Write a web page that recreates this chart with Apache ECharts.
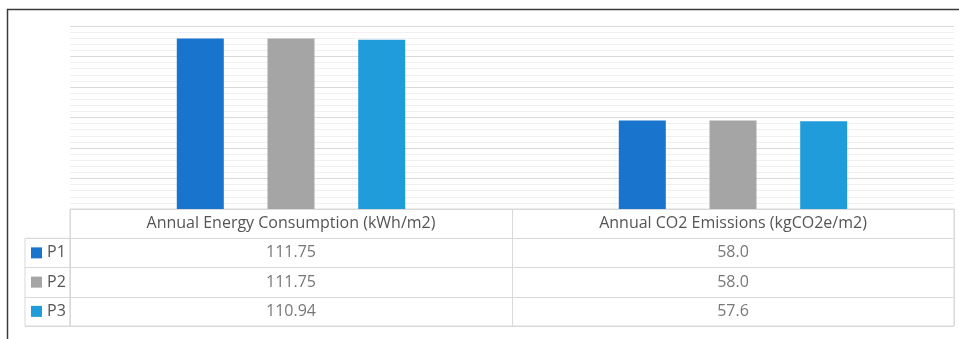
<!DOCTYPE html>
<html>
<head>
<meta charset="utf-8">
<script src="https://cdn.jsdelivr.net/npm/echarts@6/dist/echarts.min.js"></script>
<style>html,body{margin:0;padding:0;background:#fff;}#c{width:959px;height:339px;}</style>
</head>
<body>
<div id="c"></div>
<script>
const categories = ['Annual Energy Consumption (kWh/m2)', 'Annual CO2 Emissions (kgCO2e/m2)'];
const seriesNames = ['P1', 'P2', 'P3'];
const p1 = [111.75, 58.0];
const p2 = [111.75, 58.0];
const p3 = [110.94, 57.6];
const decimals = [2, 1];
const colors = ['#1874CD', '#A5A5A5', '#1F9CD9'];

const values = [p1, p2, p3];
const FONT = 'Open Sans';
const FS = 16;
const TXT = '#555555';
const BORDER = '#d9d9d9';

const bars = seriesNames.map((n, i) => ({
  type: 'bar', name: n, xAxisIndex: 0, yAxisIndex: 0,
  data: values[i], barWidth: 47, barGap: '93%',
  itemStyle: { color: colors[i] }, silent: true
}));

const cells = seriesNames.map((n, i) => ({
  type: 'scatter', name: n + ' table', xAxisIndex: 1, yAxisIndex: 1,
  symbolSize: 0, silent: true,
  data: categories.map((c, j) => [c, n, values[i][j]]),
  label: {
    show: true, position: 'inside', color: TXT, fontSize: FS, fontFamily: FONT,
    formatter: p => p.value[2].toFixed(decimals[p.dataIndex])
  }
}));

const rich = { t: { color: TXT, fontSize: FS, fontFamily: FONT, padding: [0, 0, 0, 5] } };
seriesNames.forEach((n, i) => { rich['s' + i] = { backgroundColor: colors[i], width: 11, height: 11 }; });

const option = {
  animation: false,
  graphic: [{
    type: 'rect', shape: { x: 7.5, y: 9.5, width: 1200, height: 1200 },
    style: { fill: 'none', stroke: '#3a3a3a', lineWidth: 1.5 }, silent: true
  }],
  grid: [
    { left: 70, right: 5, top: 26, height: 183 },
    { left: 70, right: 5, top: 209, height: 117, show: true, borderColor: BORDER, borderWidth: 1 },
    { left: 25, width: 45, top: 238.25, height: 87.75, show: true, borderColor: BORDER, borderWidth: 1 }
  ],
  xAxis: [
    { type: 'category', gridIndex: 0, data: categories, axisLabel: { show: false }, axisLine: { show: false }, axisTick: { show: false } },
    { type: 'category', gridIndex: 1, data: categories, position: 'top',
      axisLine: { show: false }, axisTick: { show: false },
      splitLine: { show: true, interval: 0, lineStyle: { color: BORDER } },
      axisLabel: { inside: true, margin: 14.5, verticalAlign: 'middle', color: TXT, fontSize: FS, fontFamily: FONT, interval: 0 } },
    { type: 'value', gridIndex: 2, show: false }
  ],
  yAxis: [
    { type: 'value', gridIndex: 0, min: 0, max: 120, interval: 20,
      axisLabel: { show: false }, axisLine: { show: false }, axisTick: { show: false },
      splitLine: { show: true, lineStyle: { color: '#d9d9d9' } },
      minorTick: { show: false, splitNumber: 5 },
      minorSplitLine: { show: true, lineStyle: { color: '#f0f0f0' } } },
    { type: 'category', gridIndex: 1, inverse: true, data: [''].concat(seriesNames),
      axisLabel: { show: false }, axisLine: { show: false }, axisTick: { show: false },
      splitLine: { show: true, interval: 0, lineStyle: { color: BORDER } } },
    { type: 'category', gridIndex: 2, inverse: true, data: seriesNames,
      axisLine: { show: false }, axisTick: { show: false },
      splitLine: { show: true, interval: 0, lineStyle: { color: BORDER } },
      axisLabel: { inside: true, margin: 6, align: 'left', interval: 0,
        formatter: (v, i) => '{s' + i + '|}{t|' + v + '}', rich: rich } }
  ],
  series: bars.concat(cells)
};

const chart = echarts.init(document.getElementById('c'), null, { renderer: 'canvas' });
chart.setOption(option);
</script>
</body>
</html>
